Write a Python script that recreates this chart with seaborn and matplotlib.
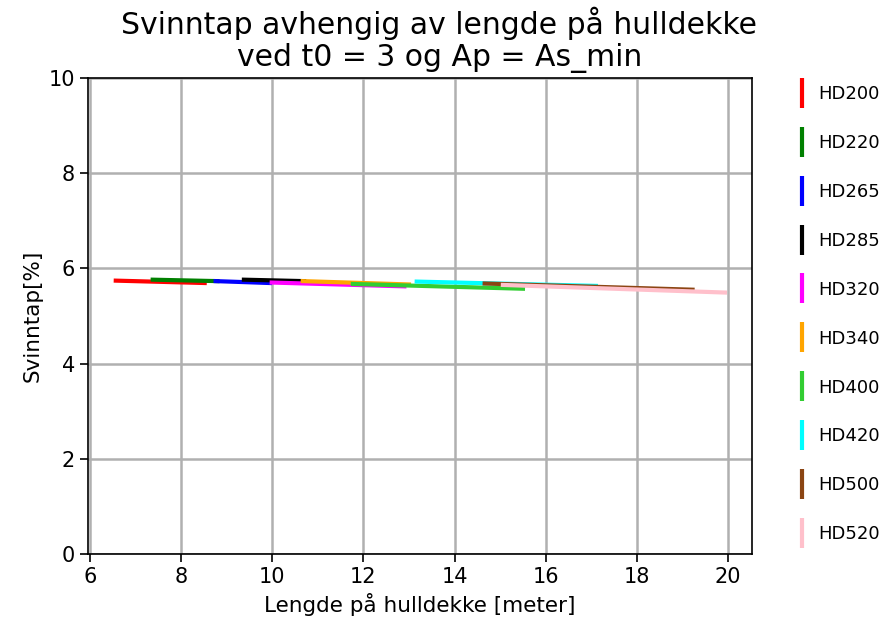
import matplotlib
matplotlib.use("Agg")
import matplotlib.pyplot as plt
from matplotlib.lines import Line2D
import seaborn as sns
import pandas as pd

names = ["HD200", "HD220", "HD265", "HD285", "HD320", "HD340", "HD400", "HD420", "HD500", "HD520"]
colors = ["red", "green", "blue", "black", "magenta", "orange", "limegreen", "cyan", "saddlebrown", "pink"]
L_start = [6.57, 7.38, 8.76, 9.38, 9.99, 10.67, 11.77, 13.17, 14.66, 15.06]
L_end = [8.52, 8.80, 9.95, 10.70, 12.90, 13.00, 15.50, 17.10, 19.22, 19.93]
S_start = [5.74, 5.76, 5.73, 5.76, 5.70, 5.73, 5.67, 5.72, 5.68, 5.65]
S_end = [5.69, 5.73, 5.69, 5.73, 5.62, 5.66, 5.57, 5.63, 5.55, 5.49]

rows = []
for n, x0, x1, y0, y1 in zip(names, L_start, L_end, S_start, S_end):
    rows.append({"serie": n, "L": x0, "S": y0})
    rows.append({"serie": n, "L": x1, "S": y1})
df = pd.DataFrame(rows)

fig = plt.figure(figsize=(8.84, 6.27), dpi=100)
ax = fig.add_axes([0.0995, 0.1164, 0.7515, 0.7596])
sns.lineplot(data=df, x="L", y="S", hue="serie", palette=dict(zip(names, colors)),
             linewidth=3, ax=ax, legend=False, sort=False)
ax.set_xlim(5.96, 20.53)
ax.set_ylim(0, 10)
ax.set_xticks([6, 8, 10, 12, 14, 16, 18, 20])
ax.set_yticks([0, 2, 4, 6, 8, 10])
ax.grid(True, color="#b0b0b0", linewidth=1.8)
ax.set_axisbelow(True)
for s in ax.spines.values():
    s.set_linewidth(1.2)
ax.tick_params(labelsize=15, length=6, width=1.2)
ax.set_xlabel("Lengde på hulldekke [meter]", fontsize=15.5)
ax.set_ylabel("Svinntap[%]", fontsize=15.5)
fig.suptitle("Svinntap avhengig av lengde på hulldekke\nved t0 = 3 og Ap = As_min",
             fontsize=21.5, x=0.497, y=0.99, va="top", linespacing=1.15)

handles = [Line2D([], [], color=c, marker="|", linestyle="none", markersize=22, markeredgewidth=3)
           for c in colors]
fig.legend(handles, names, loc="upper left", bbox_to_anchor=(0.901, 0.864), frameon=False,
           fontsize=13, labelspacing=1.71, handlelength=0.6, handletextpad=0.6,
           borderpad=0, borderaxespad=0)
fig.savefig("out.png", dpi=100)
